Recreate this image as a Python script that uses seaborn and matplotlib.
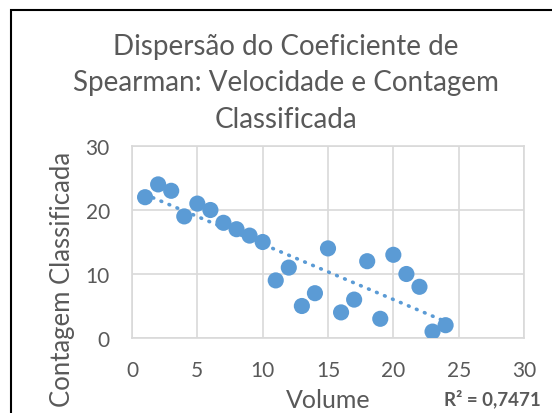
import numpy as np
import pandas as pd
import seaborn as sns
import matplotlib.pyplot as plt
from matplotlib.patches import Rectangle

# Ranked data (volume rank vs classified count rank)
volume = [1, 2, 3, 4, 5, 6, 7, 8, 9, 10, 11, 12,
          13, 14, 15, 16, 17, 18, 19, 20, 21, 22, 23, 24]
contagem = [22, 24, 23, 19, 21, 20, 18, 17, 16, 15, 9, 11,
            5, 7, 14, 4, 6, 12, 3, 13, 10, 8, 1, 2]
x_ticks = [0, 5, 10, 15, 20, 25, 30]
y_ticks = [0, 10, 20, 30]
r2_label = 'R² = 0,7471'

df = pd.DataFrame({'Volume': volume, 'Contagem': contagem})

sns.set_theme(style='white')
plt.rcParams['font.family'] = ['Lato', 'DejaVu Sans']

blue = '#5B9BD5'
grey_txt = '#595959'
grid_c = '#D9D9D9'

fig = plt.figure(figsize=(5.52, 4.14), dpi=100)
ax = fig.add_axes([132 / 552, 1 - 339 / 414, 392 / 552, 192 / 414])

# trendline
sns.regplot(data=df, x='Volume', y='Contagem', ax=ax, scatter=False, ci=None,
            color=blue, line_kws=dict(lw=2.6, linestyle=(0, (0.2, 2.2)),
                                      dash_capstyle='round', zorder=2))
sns.scatterplot(data=df, x='Volume', y='Contagem', ax=ax, color=blue,
                s=135, edgecolor='none', zorder=3)

ax.set_xlim(0, 30)
ax.set_ylim(0, 30)
ax.set_xticks(x_ticks)
ax.set_yticks(y_ticks)
ax.grid(True, color=grid_c, lw=1.2)
ax.set_axisbelow(True)
for s in ax.spines.values():
    s.set_color(grid_c)
    s.set_linewidth(1.2)
ax.tick_params(axis='both', length=0, labelsize=15, colors=grey_txt)
ax.tick_params(axis='x', pad=16)
ax.tick_params(axis='y', pad=16)

ax.set_xlabel('')
ax.set_ylabel('')
fig.text(328 / 552, 1 - 401 / 414, 'Volume', ha='center', va='center',
         fontsize=18, color=grey_txt)
fig.text(63 / 552, 1 - 279 / 414, 'Contagem Classificada', ha='center',
         va='center', rotation=90, fontsize=18.5, color=grey_txt)

fig.text(286 / 552, 1 - 34 / 414,
         'Dispersão do Coeficiente de\nSpearman: Velocidade e Contagem\nClassificada',
         ha='center', va='top', fontsize=20, color=grey_txt, linespacing=1.5)
fig.text(492 / 552, 1 - 399 / 414, r2_label, ha='center', va='center',
         fontsize=13.5, fontweight='bold', color=grey_txt)

# chart border
fig.patches.append(Rectangle((11 / 552, -0.1), 1.2, 1 - 11 / 414 + 0.1,
                             transform=fig.transFigure, fill=False,
                             edgecolor='black', lw=1.5))

fig.savefig('out.png', dpi=100)
